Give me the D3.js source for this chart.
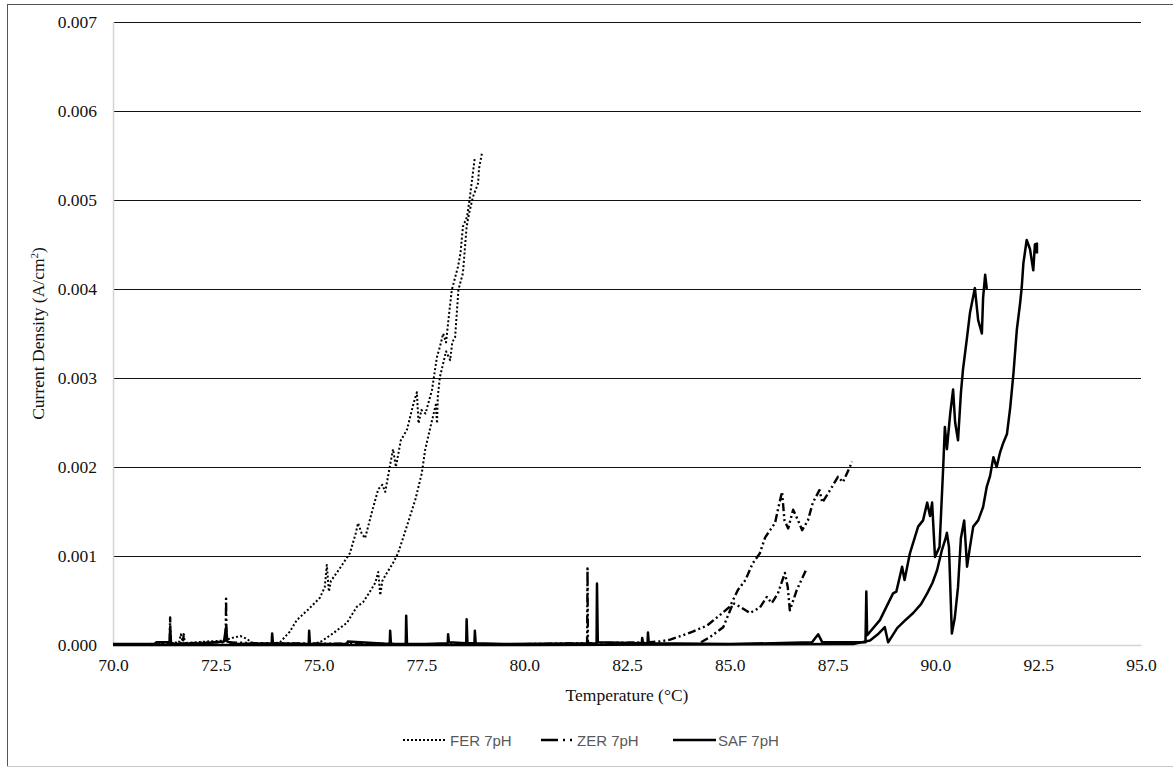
<!DOCTYPE html>
<html>
<head>
<meta charset="utf-8">
<script src="https://cdn.jsdelivr.net/npm/d3@7"></script>
<style>
  html, body { margin: 0; padding: 0; background: #fff; }
  svg { display: block; }
</style>
</head>
<body>
<svg id="chart" width="1173" height="767"></svg>
<script>
// Axis ticks
const xTicks = [70, 72.5, 75, 77.5, 80, 82.5, 85, 87.5, 90, 92.5, 95];
const yTicks = [0, 0.001, 0.002, 0.003, 0.004, 0.005, 0.006, 0.007];

// Series names (legend order)
const seriesNames = ["FER 7pH", "ZER 7pH", "SAF 7pH"];

// FER 7pH: [temperature °C, current density A/cm²]
const ferRise = [
  [70.9,0.00001],[71.6,0.00002],[71.65,0.00012],[71.7,0.00002],[72.3,0.00004],[72.7,0.00005],
  [72.9,0.00008],[73.1,0.0001],[73.25,0.00007],[73.4,0.00002],[73.8,0.00001],[74.06,0.00003],
  [74.3,0.00015],[74.47,0.00028],[74.75,0.0004],[75.03,0.00053],[75.15,0.00065],[75.2,0.0009],
  [75.25,0.0006],[75.3,0.00072],[75.5,0.00085],[75.76,0.00103],[75.9,0.00125],[75.96,0.00137],
  [76.05,0.00125],[76.13,0.0012],[76.3,0.0015],[76.45,0.00175],[76.55,0.0018],[76.62,0.00172],
  [76.75,0.00205],[76.81,0.0022],[76.88,0.002],[77.0,0.0023],[77.15,0.00242],[77.3,0.0027],
  [77.39,0.00284],[77.43,0.00249],[77.5,0.00264],[77.6,0.0026],[77.76,0.00287],[77.82,0.00306],
  [77.88,0.00324],[77.95,0.00335],[78.03,0.0035],[78.1,0.0034],[78.18,0.00375],[78.24,0.00399],
  [78.39,0.00425],[78.45,0.0044],[78.51,0.0047],[78.61,0.00481],[78.67,0.005],[78.73,0.00522],
  [78.8,0.00548]
];
const ferReturn = [
  [78.97,0.00552],[78.9,0.00535],[78.88,0.00519],[78.75,0.00503],[78.66,0.00485],[78.6,0.0047],
  [78.51,0.00418],[78.4,0.00399],[78.32,0.00346],[78.25,0.0034],[78.2,0.0032],[78.1,0.0033],
  [77.95,0.00301],[77.9,0.0028],[77.88,0.00249],[77.85,0.0027],[77.72,0.00245],[77.59,0.00219],
  [77.51,0.00193],[77.35,0.00163],[77.22,0.00144],[77.06,0.00121],[76.93,0.00103],[76.81,0.00092],
  [76.66,0.00081],[76.55,0.00072],[76.5,0.00056],[76.45,0.00082],[76.38,0.0007],[76.25,0.0006],
  [76.08,0.00048],[75.93,0.00043],[75.69,0.00025],[75.35,0.00013],[75.03,0.00003],[74.8,0.00001]
];

// ZER 7pH
const zerRise = [
  [70.9,0],[71.3,0.00003],[71.38,0.00003],[71.39,0.00031],[71.4,0.00003],[71.7,0.00002],
  [71.72,0.00012],[71.74,0.00002],[72.5,0.00003],[72.74,0.00003],[72.75,0.00052],[72.76,0.00003],
  [73.5,0.00002],[77.0,0.00001],[78.0,0.00001],[80.0,0.00001],[81.53,0.00002],[81.54,0.00086],
  [81.55,0.00002],[83.0,0.00003],[83.3,0.00004],[83.55,0.00006],[83.8,0.0001],[84.1,0.00015],
  [84.45,0.00022],[84.69,0.00031],[85.0,0.00043],[85.2,0.00062],[85.38,0.00073],[85.56,0.00092],
  [85.73,0.00103],[85.86,0.00121],[85.98,0.00129],[86.1,0.00137],[86.17,0.00152],[86.27,0.00172],
  [86.33,0.0014],[86.42,0.00131],[86.54,0.00152],[86.66,0.0014],[86.76,0.00129],[86.9,0.0014],
  [87.02,0.0016],[87.18,0.00174],[87.25,0.0016],[87.49,0.00178],[87.63,0.00189],[87.75,0.00183],
  [87.92,0.002],[87.97,0.00206]
];
const zerSecond = [
  [84.3,0.00003],[84.52,0.00009],[84.84,0.0002],[85.08,0.00047],[85.25,0.00043],[85.49,0.00036],
  [85.73,0.00042],[85.9,0.00054],[86.02,0.00047],[86.17,0.00058],[86.34,0.00081],[86.41,0.00065],
  [86.46,0.00039],[86.63,0.00062],[86.85,0.00084]
];

// SAF 7pH
const safRise = [
  [70.0,0.00001],[71.0,0.00001],[71.05,0.00003],[71.35,0.00003],[71.38,0.00002],[71.39,0.0002],
  [71.41,0.00003],[71.5,0.00001],[72.2,0.00002],[72.7,0.00004],[72.75,0.0002],[72.78,0.00004],
  [73.0,0.00001],[73.86,0.00002],[73.87,0.00013],[73.89,0.00002],[74.76,0.00001],[74.77,0.00016],
  [74.79,0.00001],[75.7,0.00001],[75.71,0.00004],[76.73,0.00001],[76.74,0.00016],[76.76,0.00001],
  [77.12,0.00001],[77.13,0.00033],[77.15,0.00001],[77.6,0.00001],[78.14,0.00002],[78.15,0.00012],
  [78.17,0.00003],[78.59,0.00002],[78.6,0.00029],[78.62,0.00002],[78.79,0.00002],[78.8,0.00016],
  [78.82,0.00002],[79.5,0.00001],[81.76,0.00002],[81.77,0.00069],[81.79,0.00003],[82.86,0.00002],
  [82.87,0.00008],[82.89,0.00002],[83.0,0.00002],[83.01,0.00014],[83.03,0.00002],[85.0,0.00001],
  [87.0,0.00003],[87.15,0.00012],[87.25,0.00003],[88.3,0.00003],[88.32,0.0006],[88.34,0.00011],
  [88.65,0.00028],[88.97,0.00058],[89.05,0.0006],[89.19,0.00088],[89.25,0.00073],[89.38,0.00103],
  [89.58,0.00133],[89.7,0.0014],[89.8,0.0016],[89.87,0.00145],[89.92,0.0016],[89.99,0.00099],
  [90.1,0.0011],[90.19,0.002],[90.23,0.00245],[90.28,0.0022],[90.36,0.0026],[90.43,0.00287],
  [90.48,0.0025],[90.55,0.0023],[90.62,0.00283],[90.67,0.00309],[90.77,0.00346],[90.84,0.00373],
  [90.96,0.00401],[91.04,0.00365],[91.13,0.0035],[91.16,0.0039],[91.21,0.00416],[91.25,0.004]
];
const safSecond = [
  [70.0,0],[80.0,0],[88.0,0.00001],[88.41,0.00005],[88.6,0.00012],[88.77,0.0002],[88.85,0.00003],[89.07,0.00019],
  [89.25,0.00027],[89.46,0.00036],[89.65,0.00046],[89.8,0.00058],[89.93,0.0007],[90.04,0.00084],
  [90.16,0.00107],[90.25,0.0012],[90.28,0.00126],[90.33,0.0011],[90.4,0.00013],[90.47,0.0003],
  [90.55,0.00065],[90.62,0.0012],[90.7,0.0014],[90.77,0.00088],[90.84,0.0011],[90.92,0.00133],
  [91.04,0.0014],[91.16,0.00155],[91.25,0.00178],[91.33,0.0019],[91.41,0.00211],[91.49,0.002],
  [91.57,0.00216],[91.65,0.00227],[91.74,0.00237],[91.82,0.00267],[91.9,0.00306],[91.98,0.00354],
  [92.06,0.00384],[92.1,0.00402],[92.14,0.00429],[92.22,0.00455],[92.3,0.00445],[92.38,0.00421],
  [92.42,0.0045],[92.47,0.00451],[92.47,0.0044]
];

// Line styles per series
const styles = {
  "FER 7pH": { width: 2, dash: "2,2.2", legendDash: "2,2" },
  "ZER 7pH": { width: 2.4, dash: "8,3,2,3,2,3", legendDash: "17,5,2,5,2,5" },
  "SAF 7pH": { width: 2.5, dash: null, legendDash: null }
};
const segments = {
  "FER 7pH": [ferRise, ferReturn],
  "ZER 7pH": [zerRise, zerSecond],
  "SAF 7pH": [safRise, safSecond]
};

const svg = d3.select("#chart");
const plotLeft = 113, plotRight = 1141, plotTop = 22, plotBottom = 645;

// outer frame
svg.append("line").attr("x1", 7.5).attr("x2", 7.5).attr("y1", 4).attr("y2", 766).attr("stroke", "#555").attr("stroke-width", 1);
svg.append("line").attr("x1", 7).attr("x2", 1173).attr("y1", 4.5).attr("y2", 4.5).attr("stroke", "#555").attr("stroke-width", 1);
svg.append("line").attr("x1", 7).attr("x2", 1173).attr("y1", 766.5).attr("y2", 766.5).attr("stroke", "#c8c8c8").attr("stroke-width", 1);

const x = d3.scaleLinear().domain([70, 95]).range([plotLeft, plotRight]);
const y = d3.scaleLinear().domain([0, 0.007]).range([plotBottom, plotTop]);

// horizontal gridlines
const grid = svg.append("g").attr("transform", `translate(${plotLeft},0)`)
  .call(d3.axisLeft(y).tickValues(yTicks.slice(1)).tickSize(-(plotRight - plotLeft)).tickFormat(""));
grid.select(".domain").remove();
grid.selectAll("line").attr("stroke", "#111").attr("stroke-width", 1.2);

// y axis labels and light axis line
const yAxis = svg.append("g").attr("transform", `translate(${plotLeft},0)`)
  .call(d3.axisLeft(y).tickValues(yTicks).tickSize(0).tickPadding(16).tickFormat(d3.format(".3f")));
yAxis.select(".domain").remove();
yAxis.selectAll("text").attr("font-family", "'Liberation Serif', 'Times New Roman', serif")
  .attr("font-size", 17.5).attr("fill", "#111");
svg.append("line").attr("x1", plotLeft + 0.5).attr("x2", plotLeft + 0.5).attr("y1", plotTop).attr("y2", plotBottom)
  .attr("stroke", "#d4d4d4").attr("stroke-width", 1.5);

// x axis
const xAxis = svg.append("g").attr("transform", `translate(0,${plotBottom})`)
  .call(d3.axisBottom(x).tickValues(xTicks).tickSize(0).tickPadding(14).tickFormat(d3.format(".1f")));
xAxis.select(".domain").attr("stroke", "#d4d4d4").attr("stroke-width", 1.5);
xAxis.selectAll("text").attr("font-family", "'Liberation Serif', 'Times New Roman', serif")
  .attr("font-size", 17.5).attr("fill", "#111");

// axis titles
svg.append("text").attr("x", (plotLeft + plotRight) / 2).attr("y", 701).attr("text-anchor", "middle")
  .attr("font-family", "'Liberation Serif', 'Times New Roman', serif").attr("font-size", 17.5).attr("fill", "#111")
  .text("Temperature (°C)");
const yt = svg.append("text").attr("transform", `translate(44,${(plotTop + plotBottom) / 2}) rotate(-90)`)
  .attr("text-anchor", "middle")
  .attr("font-family", "'Liberation Serif', 'Times New Roman', serif").attr("font-size", 17.5).attr("fill", "#111");
yt.append("tspan").text("Current Density (A/cm");
yt.append("tspan").attr("baseline-shift", "super").attr("font-size", 11).text("2");
yt.append("tspan").text(")");

// series lines
const line = d3.line().x(d => x(d[0])).y(d => y(d[1]));
const plot = svg.append("g");
["SAF 7pH", "ZER 7pH", "FER 7pH"].forEach(name => {
  const s = styles[name];
  segments[name].forEach(seg => {
    plot.append("path").datum(seg).attr("d", line)
      .attr("fill", "none").attr("stroke", "#000")
      .attr("stroke-width", s.width)
      .attr("stroke-linejoin", "round")
      .attr("stroke-dasharray", s.dash);
  });
});

// legend
const legendItems = [
  { name: seriesNames[0], x0: 403, x1: 447, tx: 450 },
  { name: seriesNames[1], x0: 541, x1: 574, tx: 577 },
  { name: seriesNames[2], x0: 673, x1: 716, tx: 718 }
];
const lg = svg.append("g");
legendItems.forEach(it => {
  const s = styles[it.name];
  lg.append("line").attr("x1", it.x0).attr("x2", it.x1).attr("y1", 740).attr("y2", 740)
    .attr("stroke", "#000").attr("stroke-width", s.width).attr("stroke-dasharray", s.legendDash);
  lg.append("text").attr("x", it.tx).attr("y", 745.5)
    .attr("font-family", "'Liberation Sans', Arial, sans-serif").attr("font-size", 15)
    .attr("fill", "#595959").text(it.name);
});
</script>
</body>
</html>
